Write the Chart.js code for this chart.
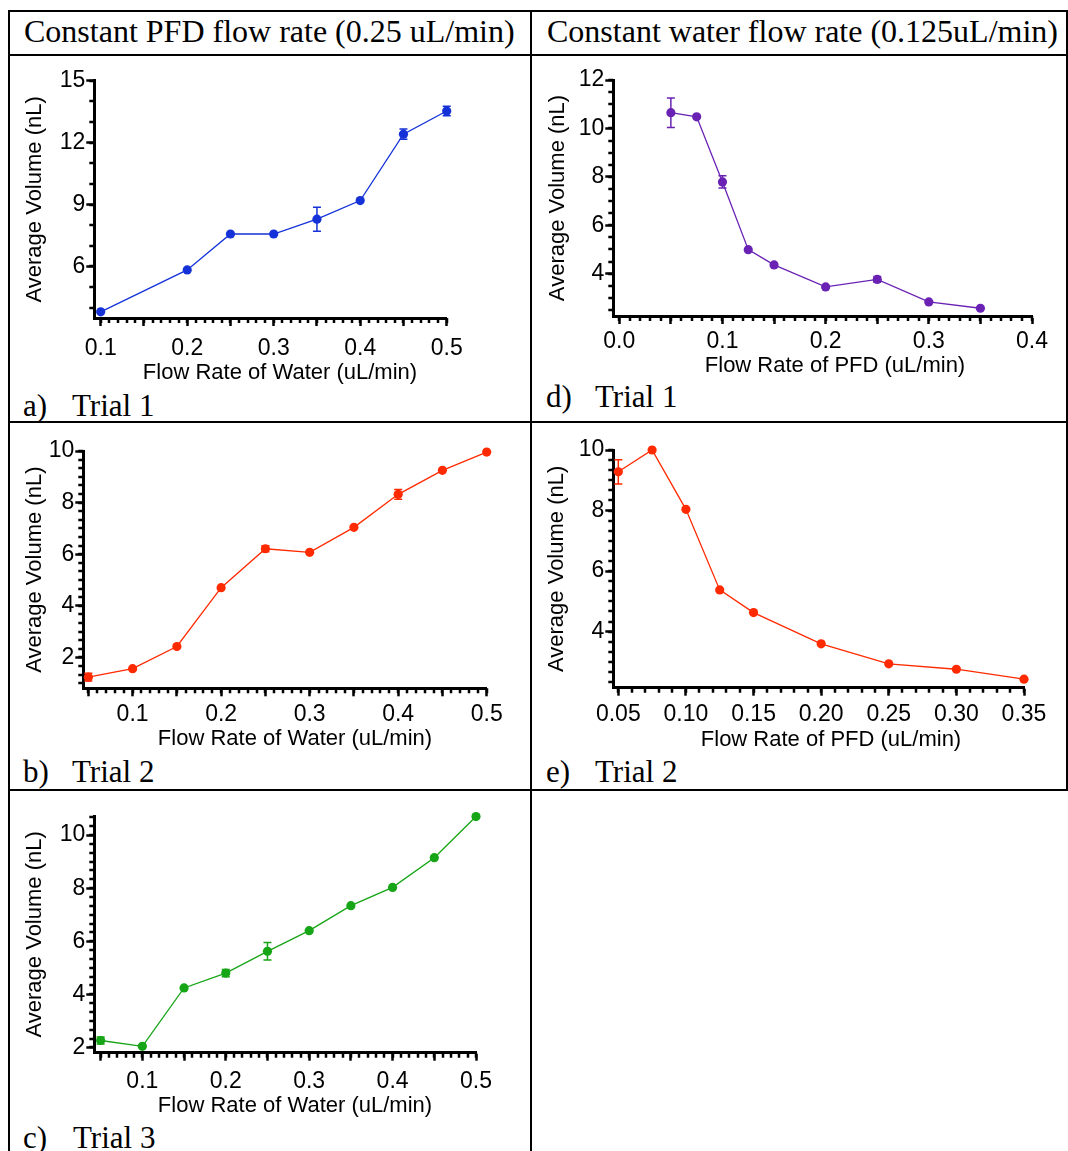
<!DOCTYPE html>
<html>
<head>
<meta charset="utf-8">
<script src="https://cdn.jsdelivr.net/npm/chart.js@4.4.1/dist/chart.umd.min.js"></script>
<style>
  body { margin: 0; background: #fff; width: 1068px; height: 1151px; overflow: hidden; position: relative;
         font-family: 'Liberation Serif', 'Times New Roman', serif; color: #000; }
  .ln { position: absolute; background: #000; }
  .txt { position: absolute; white-space: nowrap; line-height: 1; }
  .hd { font-size: 32px; }
  .cap { font-size: 31px; }
  canvas { position: absolute; }
</style>
</head>
<body>
<!-- table grid -->
<div class="ln" style="left:8px;top:10px;width:1060px;height:2px"></div>
<div class="ln" style="left:8px;top:54px;width:1060px;height:2px"></div>
<div class="ln" style="left:8px;top:421px;width:1060px;height:2px"></div>
<div class="ln" style="left:8px;top:789px;width:1060px;height:2px"></div>
<div class="ln" style="left:8px;top:10px;width:2px;height:1141px"></div>
<div class="ln" style="left:530px;top:10px;width:2px;height:1141px"></div>
<div class="ln" style="left:1066px;top:10px;width:2px;height:781px"></div>

<div class="txt hd" style="left:24px;top:15px">Constant PFD flow rate (0.25 uL/min)</div>
<div class="txt hd" style="left:547px;top:15px">Constant water flow rate (0.125uL/min)</div>

<div class="txt cap" style="left:23px;top:390px">a)</div><div class="txt cap" style="left:72px;top:390px">Trial 1</div>
<div class="txt cap" style="left:546px;top:381px">d)</div><div class="txt cap" style="left:595px;top:381px">Trial 1</div>
<div class="txt cap" style="left:23px;top:756px">b)</div><div class="txt cap" style="left:72px;top:756px">Trial 2</div>
<div class="txt cap" style="left:546px;top:756px">e)</div><div class="txt cap" style="left:595px;top:756px">Trial 2</div>
<div class="txt cap" style="left:23px;top:1122px">c)</div><div class="txt cap" style="left:73px;top:1122px">Trial 3</div>

<canvas id="chartA"></canvas>
<canvas id="chartB"></canvas>
<canvas id="chartC"></canvas>
<canvas id="chartD"></canvas>
<canvas id="chartE"></canvas>

<script>
// ---- values ----
// a) constant PFD (0.25 uL/min), trial 1
const waterA = [0.1, 0.2, 0.25, 0.3, 0.35, 0.4, 0.45, 0.5];
const volA   = [3.8, 5.83, 7.57, 7.57, 8.29, 9.19, 12.41, 13.53];
const errA   = [0, 0, 0, 0, 0.58, 0, 0.25, 0.23];

// b) trial 2
const waterB = [0.05, 0.1, 0.15, 0.2, 0.25, 0.3, 0.35, 0.4, 0.45, 0.5];
const volB   = [1.23, 1.56, 2.42, 4.7, 6.21, 6.07, 7.04, 8.32, 9.25, 9.96];
const errB   = [0.15, 0, 0, 0, 0.12, 0, 0, 0.19, 0, 0];

// c) trial 3
const waterC = [0.05, 0.1, 0.15, 0.2, 0.25, 0.3, 0.35, 0.4, 0.45, 0.5];
const volC   = [2.26, 2.04, 4.24, 4.8, 5.62, 6.4, 7.34, 8.03, 9.15, 10.7];
const errC   = [0.13, 0, 0, 0.14, 0.33, 0, 0, 0, 0, 0];

// d) constant water (0.125 uL/min), trial 1
const pfdD = [0.05, 0.075, 0.1, 0.125, 0.15, 0.2, 0.25, 0.3, 0.35];
const volD = [10.65, 10.48, 7.79, 4.99, 4.36, 3.45, 3.76, 2.83, 2.57];
const errD = [0.61, 0, 0.25, 0, 0, 0, 0.12, 0, 0];

// e) trial 2
const pfdE = [0.05, 0.075, 0.1, 0.125, 0.15, 0.2, 0.25, 0.3, 0.35];
const volE = [9.28, 10.0, 8.04, 5.38, 4.63, 3.6, 2.94, 2.76, 2.43];
const errE = [0.4, 0, 0, 0, 0, 0, 0, 0, 0];

// tick labels
const xLabelsWater = [0.1, 0.2, 0.3, 0.4, 0.5];
const xLabelsD = [0.0, 0.1, 0.2, 0.3, 0.4];
const xLabelsE = [0.05, 0.10, 0.15, 0.20, 0.25, 0.30, 0.35];
const yLabelsA = [6, 9, 12, 15];
const yLabelsB = [2, 4, 6, 8, 10];
const yLabelsC = [2, 4, 6, 8, 10];
const yLabelsD = [4, 6, 8, 10, 12];
const yLabelsE = [4, 6, 8, 10];

const SANS = "'Liberation Sans', Arial, sans-serif";
Chart.defaults.font.family = SANS;
Chart.defaults.color = '#000';

// tick positions along an axis (decoration only)
function ticksIn(anchor, step, min, max) {
    const out = [];
    const k0 = Math.ceil((min - anchor) / step - 1e-6);
    const k1 = Math.floor((max - anchor) / step + 1e-6);
    for (let k = k0; k <= k1; k++) out.push(+(anchor + k * step).toFixed(6));
    return out;
}

function makeChart(id, c) {
    const [bx, by, bw, bh] = c.box;
    const [L, T, R, B] = c.area;
    const cv = document.getElementById(id);
    cv.width = bw; cv.height = bh;
    cv.style.left = bx + 'px'; cv.style.top = by + 'px';
    cv.style.width = bw + 'px'; cv.style.height = bh + 'px';

    const tickSize = 23, xTitleSize = 22, yTitleSize = 22;
    const majX = ticksIn(c.xAnchor, c.xMajor, c.xMin, c.xMax);
    const minX = ticksIn(c.xAnchor, 0.01, c.xMin, c.xMax);
    const minY = ticksIn(c.yLabels[0], c.yMinor, c.yMin, c.yMax);

    // minor axis ticks + x-axis title (the original sits a bit right of centre)
    const axisExtras = {
        id: 'axisExtras',
        afterDraw(chart) {
            const ctx = chart.ctx, xs = chart.scales.x, ys = chart.scales.y;
            ctx.save();
            ctx.strokeStyle = '#000';
            ctx.lineWidth = 2.5;
            ctx.beginPath();
            minX.forEach(v => {
                const p = Math.round(xs.getPixelForValue(v));
                ctx.moveTo(p, ys.bottom); ctx.lineTo(p, ys.bottom + 5);
            });
            minY.forEach(v => {
                const p = Math.round(ys.getPixelForValue(v));
                ctx.moveTo(xs.left, p); ctx.lineTo(xs.left - 5, p);
            });
            ctx.stroke();
            ctx.fillStyle = '#000';
            ctx.font = xTitleSize + 'px ' + SANS;
            ctx.textAlign = 'center';
            ctx.textBaseline = 'middle';
            ctx.fillText(c.xTitle, c.xTitleX - bx, c.xTitleY - by);
            ctx.restore();
        }
    };

    // error bars
    const errorBars = {
        id: 'errorBars',
        afterDatasetsDraw(chart) {
            const ctx = chart.ctx, xs = chart.scales.x, ys = chart.scales.y;
            ctx.save();
            ctx.strokeStyle = c.color;
            ctx.lineWidth = 1.5;
            c.err.forEach((e, i) => {
                if (!e) return;
                const px = xs.getPixelForValue(c.xs[i]);
                const hi = ys.getPixelForValue(c.ys[i] + e);
                const lo = ys.getPixelForValue(c.ys[i] - e);
                ctx.beginPath();
                ctx.moveTo(px, hi); ctx.lineTo(px, lo);
                ctx.moveTo(px - 4, hi); ctx.lineTo(px + 4, hi);
                ctx.moveTo(px - 4, lo); ctx.lineTo(px + 4, lo);
                ctx.stroke();
            });
            ctx.restore();
        }
    };

    const axisGrid = { display: true, drawOnChartArea: false, drawTicks: true, tickWidth: 2.5, tickColor: '#000' };

    return new Chart(cv, {
        type: 'line',
        data: {
            datasets: [{
                data: c.xs.map((x, i) => ({ x: x, y: c.ys[i] })),
                borderColor: c.color,
                backgroundColor: c.color,
                borderWidth: 1.3,
                pointRadius: 4.6,
                pointBorderWidth: 0,
                pointBackgroundColor: c.color,
                tension: 0,
                clip: false
            }]
        },
        options: {
            responsive: false,
            animation: false,
            events: [],
            layout: { padding: { left: 0, top: T - by, right: bx + bw - R, bottom: 0 } },
            plugins: { legend: { display: false }, tooltip: { enabled: false } },
            scales: {
                x: {
                    type: 'linear',
                    min: c.xMin, max: c.xMax,
                    afterBuildTicks: s => { s.ticks = majX.map(v => ({ value: v })); },
                    afterFit: s => { s.height = by + bh - B; },
                    border: { display: true, color: '#000', width: 3 },
                    grid: Object.assign({ tickLength: 8 }, axisGrid),
                    ticks: {
                        autoSkip: false, maxRotation: 0,
                        font: { size: tickSize },
                        padding: c.xTickY - B - 8 - tickSize * 0.6,
                        callback: v => c.xLabels.some(l => Math.abs(l - v) < 1e-6) ? v.toFixed(c.xDec) : ''
                    },
                    title: { display: false }
                },
                y: {
                    min: c.yMin, max: c.yMax,
                    afterBuildTicks: s => { s.ticks = c.yLabels.map(v => ({ value: v })); },
                    afterFit: s => { s.width = L - bx; },
                    border: { display: true, color: '#000', width: 3 },
                    grid: Object.assign({ tickLength: 8 }, axisGrid),
                    ticks: { font: { size: tickSize }, padding: 1, callback: v => String(v) },
                    title: {
                        display: true, text: 'Average Volume (nL)', font: { size: yTitleSize },
                        padding: { top: c.yTitleX - bx - yTitleSize * 0.6, bottom: 0 }
                    }
                }
            }
        },
        plugins: [axisExtras, errorBars]
    });
}

document.addEventListener('DOMContentLoaded', () => {
    // a) water varied, trial 1
    makeChart('chartA', {
        xs: waterA, ys: volA, err: errA, color: '#1432d8',
        xMin: 0.0926, xMax: 0.5, xAnchor: 0.1, xMajor: 0.05, xLabels: xLabelsWater, xDec: 1,
        yMin: 3.5, yMax: 15, yLabels: yLabelsA, yMinor: 1,
        xTitle: 'Flow Rate of Water (uL/min)',
        box: [10, 56, 515, 336], area: [94.3, 80.7, 446.7, 318],
        xTitleX: 280, xTitleY: 373, yTitleX: 35, xTickY: 348.3
    });

    // b) water varied, trial 2
    makeChart('chartB', {
        xs: waterB, ys: volB, err: errB, color: '#ff2a00',
        xMin: 0.0443, xMax: 0.5, xAnchor: 0.1, xMajor: 0.05, xLabels: xLabelsWater, xDec: 1,
        yMin: 0.8, yMax: 10, yLabels: yLabelsB, yMinor: 1 / 3,
        xTitle: 'Flow Rate of Water (uL/min)',
        box: [10, 424, 515, 336], area: [83.3, 451, 486.7, 688.3],
        xTitleX: 295, xTitleY: 739, yTitleX: 35, xTickY: 714.7
    });

    // c) water varied, trial 3
    makeChart('chartC', {
        xs: waterC, ys: volC, err: errC, color: '#16a516',
        xMin: 0.0424, xMax: 0.5, xAnchor: 0.1, xMajor: 0.05, xLabels: xLabelsWater, xDec: 1,
        yMin: 1.8, yMax: 10.72, yLabels: yLabelsC, yMinor: 1 / 3,
        xTitle: 'Flow Rate of Water (uL/min)',
        box: [10, 792, 515, 336], area: [94.3, 816, 476, 1052.7],
        xTitleX: 295, xTitleY: 1105.7, yTitleX: 35, xTickY: 1081.7
    });

    // d) PFD varied, trial 1
    makeChart('chartD', {
        xs: pfdD, ys: volD, err: errD, color: '#6a22b4',
        xMin: -0.0058, xMax: 0.4, xAnchor: 0, xMajor: 0.05, xLabels: xLabelsD, xDec: 1,
        yMin: 2.25, yMax: 12, yLabels: yLabelsD, yMinor: 0.5,
        xTitle: 'Flow Rate of PFD (uL/min)',
        box: [532, 56, 534, 336], area: [613.3, 80, 1032, 316],
        xTitleX: 835, xTitleY: 365.7, yTitleX: 557.5, xTickY: 341.7
    });

    // e) PFD varied, trial 2
    makeChart('chartE', {
        xs: pfdE, ys: volE, err: errE, color: '#ff2a00',
        xMin: 0.0463, xMax: 0.35, xAnchor: 0.05, xMajor: 0.05, xLabels: xLabelsE, xDec: 2,
        yMin: 2.15, yMax: 10, yLabels: yLabelsE, yMinor: 1 / 3,
        xTitle: 'Flow Rate of PFD (uL/min)',
        box: [532, 424, 534, 336], area: [613.3, 450, 1024, 687.7],
        xTitleX: 831, xTitleY: 739.7, yTitleX: 556.7, xTickY: 715
    });
});
</script>
</body>
</html>
